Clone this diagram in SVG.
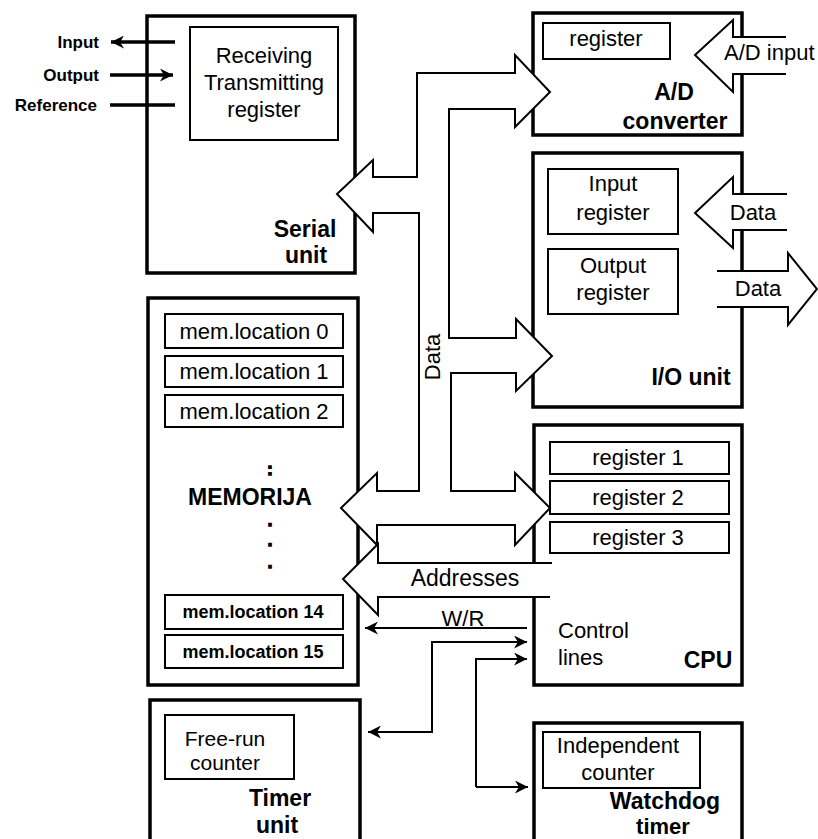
<svg xmlns="http://www.w3.org/2000/svg" width="818" height="839" viewBox="0 0 818 839">
<style>
text{font-family:"Liberation Sans",Arial,sans-serif;fill:#000}
.r{font-size:22px}
.b{font-size:23px;font-weight:bold}
.lb{font-size:17px;font-weight:bold}
.sm{font-size:18px;font-weight:bold}
.dot{font-size:16px;font-weight:bold;stroke:#000;stroke-width:1.5}
.m{text-anchor:middle}
.e{text-anchor:end}
.box{fill:#fff;stroke:#000;stroke-width:3.5}
.in{fill:none;stroke:#000;stroke-width:2}
.bus{fill:#fff;stroke:#000;stroke-width:2;stroke-linejoin:miter}
.fill{fill:#fff;stroke:none}
.ln{fill:none;stroke:#000;stroke-width:2}
.tk{fill:none;stroke:#000;stroke-width:3.5}
</style>
<defs>
<marker id="ah" viewBox="0 0 10 10" refX="10" refY="5" markerUnits="userSpaceOnUse" markerWidth="21" markerHeight="13" orient="auto-start-reverse">
<path d="M0,0 L10,5 L0,10 L3,5 z" fill="#000"/>
</marker>
</defs>

<g id="serial">
<rect class="box" x="147" y="16" width="208" height="257"/>
<rect class="in" x="190" y="27" width="148" height="113"/>
<text class="r m" x="264" y="63">Receiving</text>
<text class="r m" x="264" y="90">Transmitting</text>
<text class="r m" x="264" y="117">register</text>
<text class="b m" x="305" y="237">Serial</text>
<text class="b m" x="306" y="263">unit</text>
</g>

<g id="ad">
<rect class="box" x="533" y="13" width="209" height="122"/>
<rect class="in" x="543" y="23" width="127" height="36"/>
<text class="r m" x="606" y="46">register</text>
<text class="b m" x="674" y="100">A/D</text>
<text class="b m" x="675" y="129">converter</text>
</g>

<g id="io">
<rect class="box" x="533" y="153" width="209" height="254"/>
<rect class="in" x="548" y="169" width="130" height="65"/>
<text class="r m" x="613" y="191">Input</text>
<text class="r m" x="613" y="220">register</text>
<rect class="in" x="548" y="249" width="130" height="65"/>
<text class="r m" x="613" y="273">Output</text>
<text class="r m" x="613" y="300">register</text>
<text class="b m" x="691" y="385">I/O unit</text>
</g>

<g id="memory">
<rect class="box" x="148" y="298" width="210" height="387"/>
<rect class="in" x="165" y="314" width="178" height="34"/>
<text class="r m" x="254" y="339">mem.location 0</text>
<rect class="in" x="165" y="356" width="178" height="31"/>
<text class="r m" x="254" y="379">mem.location 1</text>
<rect class="in" x="165" y="395" width="178" height="32"/>
<text class="r m" x="254" y="419">mem.location 2</text>
<text class="dot m" x="270" y="475">:</text>
<text class="b m" x="250" y="505">MEMORIJA</text>
<text class="dot m" x="270" y="526">.</text>
<text class="dot m" x="270" y="546">.</text>
<text class="dot m" x="270" y="568">.</text>
<rect class="in" x="165" y="595" width="178" height="34"/>
<text class="sm m" x="253" y="618">mem.location 14</text>
<rect class="in" x="165" y="635" width="178" height="33"/>
<text class="sm m" x="253" y="658">mem.location 15</text>
</g>

<g id="cpu">
<rect class="box" x="534" y="425" width="208" height="260"/>
<rect class="in" x="550" y="442" width="179" height="32"/>
<text class="r m" x="638" y="465">register 1</text>
<rect class="in" x="550" y="481" width="179" height="33"/>
<text class="r m" x="638" y="505">register 2</text>
<rect class="in" x="550" y="522" width="179" height="31"/>
<text class="r m" x="638" y="545">register 3</text>
<text class="r" x="558" y="638">Control</text>
<text class="r" x="558" y="665">lines</text>
<text class="b m" x="708" y="668">CPU</text>
</g>

<g id="timer">
<rect class="box" x="150" y="700" width="210" height="160"/>
<rect class="in" x="165" y="715" width="129" height="64"/>
<text class="r m" x="225" y="746" style="font-size:21px">Free-run</text>
<text class="r m" x="225" y="770" style="font-size:21px">counter</text>
<text class="b m" x="280" y="806">Timer</text>
<text class="b m" x="277" y="833">unit</text>
</g>

<g id="watchdog">
<rect class="box" x="534" y="723" width="208" height="140"/>
<rect class="in" x="543" y="732" width="157" height="56"/>
<text class="r m" x="618" y="753">Independent</text>
<text class="r m" x="618" y="780">counter</text>
<text class="b m" x="665" y="809">Watchdog</text>
<text class="b m" x="663" y="834" style="font-size:22px">timer</text>
</g>

<g id="connectors">
<line class="tk" x1="175" y1="42" x2="111" y2="42" marker-end="url(#ah)"/>
<line class="tk" x1="110" y1="75" x2="173" y2="75" marker-end="url(#ah)"/>
<line class="tk" x1="110" y1="105" x2="175" y2="105"/>
<text class="lb e" x="99" y="48">Input</text>
<text class="lb e" x="99" y="81">Output</text>
<text class="lb e" x="97" y="111">Reference</text>

<polygon class="bus" points="337,194 373,160 373,177 417,177 417,73 515,73 515,55 550,92 515,127 515,109 449,109 449,338 516,338 516,319 552,356 516,391 516,373 451,373 451,491 515,491 515,473 550,508 515,545 515,525 377,525 377,545 341,508 377,473 377,491 419,491 419,213 373,213 373,232"/>
<text class="r m" transform="translate(440,357) rotate(-90)">Data</text>

<polygon class="fill" points="552,563 378,563 378,544 343,579 378,615 378,597 552,597"/>
<polyline class="ln" points="552,563 378,563 378,544 343,579 378,615 378,597 550,597"/>
<text class="r m" x="465" y="586" style="font-size:23px">Addresses</text>

<polygon class="fill" points="786,37 733,37 733,20 695,55 733,92 733,74 786,74"/>
<polyline class="ln" points="786,37 733,37 733,20 695,55 733,92 733,74 786,74"/>
<text class="r" x="724" y="60">A/D input</text>

<polygon class="fill" points="787,194 733,194 733,177 695,213 733,248 733,230 787,230"/>
<polyline class="ln" points="787,194 733,194 733,177 695,213 733,248 733,230 787,230"/>
<text class="r m" x="753" y="220">Data</text>

<polygon class="fill" points="717,271 788,271 788,253 817,289 788,325 788,307 717,307"/>
<polyline class="ln" points="717,271 788,271 788,253 817,289 788,325 788,307 717,307"/>
<text class="r m" x="758" y="296">Data</text>

<line class="ln" x1="527" y1="628" x2="365" y2="628" marker-end="url(#ah)"/>
<text class="r m" x="463" y="626">W/R</text>

<polyline class="ln" points="368,732 432,732 432,642 527,642" marker-start="url(#ah)" marker-end="url(#ah)"/>
<polyline class="ln" points="476,787 476,659 527,659" marker-end="url(#ah)"/>
<line class="ln" x1="476" y1="787" x2="528" y2="787" marker-end="url(#ah)"/>
</g>
</svg>
